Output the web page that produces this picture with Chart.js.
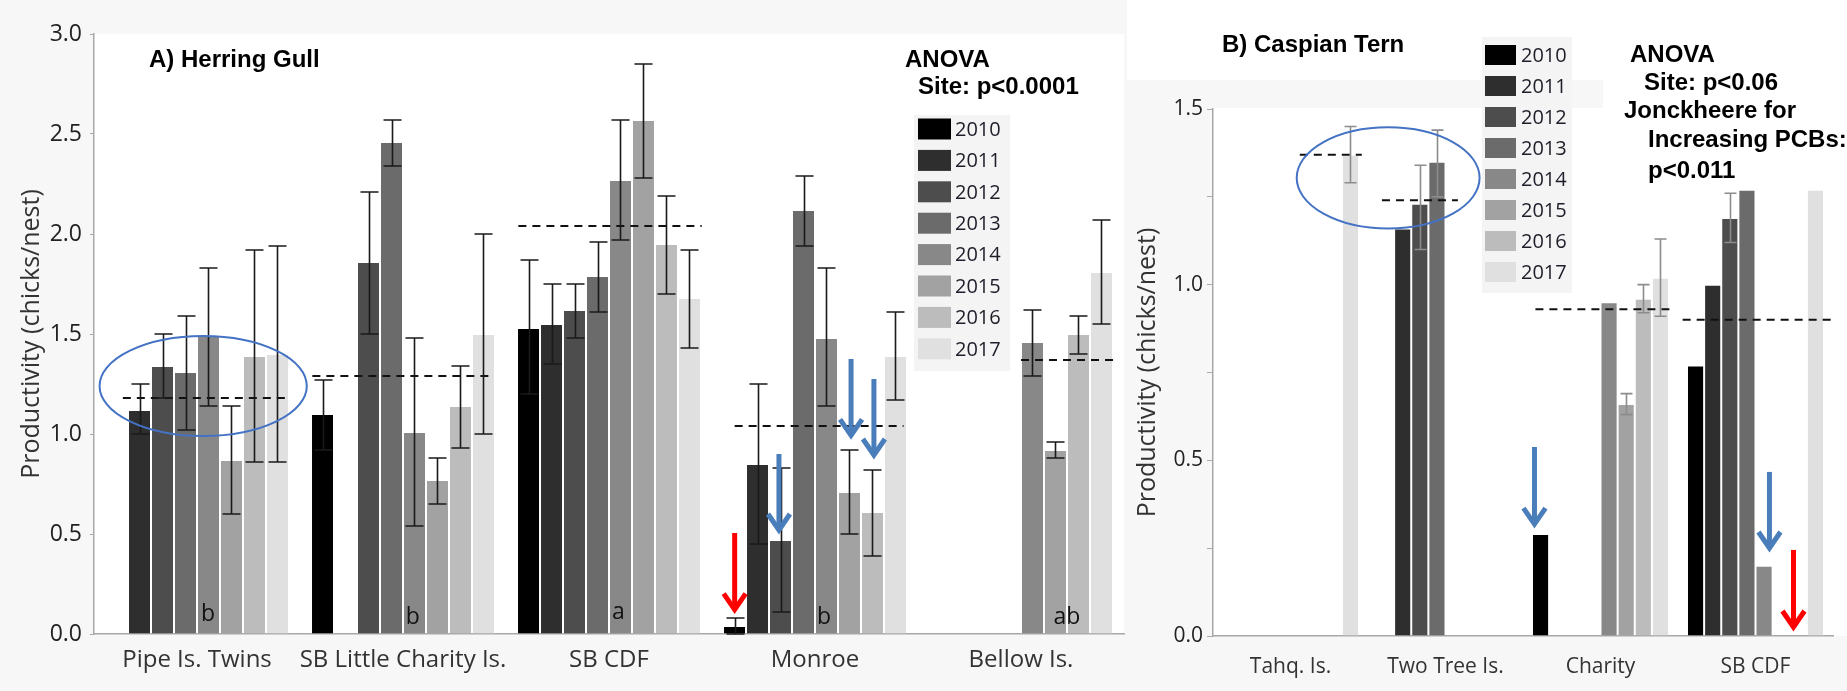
<!DOCTYPE html>
<html>
<head>
<meta charset="utf-8">
<script src="https://cdn.jsdelivr.net/npm/chart.js@4.4.1/dist/chart.umd.min.js"></script>
<style>
  html, body { margin: 0; padding: 0; background: #f7f7f7; }
  #wrap { position: relative; width: 1847px; height: 691px; overflow: hidden; }
  #gullBox { position: absolute; left: 0; top: 0; width: 1127px; height: 691px; }
  #ternBox { position: absolute; left: 1127px; top: 0; width: 720px; height: 691px; }
</style>
</head>
<body>
<div id="wrap">
  <div id="gullBox"><canvas id="gullChart" width="1127" height="691"></canvas></div>
  <div id="ternBox"><canvas id="ternChart" width="720" height="691"></canvas></div>
</div>
<script>
// years / colours shared by both panels
const years = ['2010', '2011', '2012', '2013', '2014', '2015', '2016', '2017'];
const yearColors = ['#000000', '#2e2e2e', '#4d4d4d', '#6b6b6b', '#888888', '#a2a2a2', '#bcbcbc', '#e0e0e0'];

// A) Herring Gull - one array per site, one value per year
const gullSites = ['Pipe Is. Twins', 'SB Little Charity Is.', 'SB CDF', 'Monroe', 'Bellow Is.'];
const gullPipe = [null, 1.12, 1.34, 1.31, 1.49, 0.87, 1.39, 1.40];
const gullLittleCharity = [1.10, null, 1.86, 2.46, 1.01, 0.77, 1.14, 1.50];
const gullCdf = [1.53, 1.55, 1.62, 1.79, 2.27, 2.57, 1.95, 1.68];
const gullMonroe = [0.04, 0.85, 0.47, 2.12, 1.48, 0.71, 0.61, 1.39];
const gullBellow = [null, null, null, null, 1.46, 0.92, 1.50, 1.81];

// error bars [low, high]
const gullPipeErr = [null, [1.00, 1.25], [1.18, 1.50], [1.02, 1.59], [1.14, 1.83], [0.60, 1.14], [0.86, 1.92], [0.86, 1.94]];
const gullLittleCharityErr = [[0.92, 1.27], null, [1.50, 2.21], [2.34, 2.57], [0.54, 1.48], [0.65, 0.88], [0.93, 1.34], [1.00, 2.00]];
const gullCdfErr = [[1.20, 1.87], [1.35, 1.75], [1.48, 1.75], [1.61, 1.96], [1.97, 2.57], [2.28, 2.85], [1.70, 2.19], [1.43, 1.92]];
const gullMonroeErr = [[0.00, 0.08], [0.45, 1.25], [0.11, 0.83], [1.94, 2.29], [1.14, 1.83], [0.50, 0.92], [0.39, 0.82], [1.17, 1.61]];
const gullBellowErr = [null, null, null, null, [1.29, 1.62], [0.88, 0.96], [1.40, 1.59], [1.55, 2.07]];

const gullMeans = [1.18, 1.29, 2.04, 1.04, 1.37];
const gullLetters = ['b', 'b', 'a', 'b', 'ab'];
const gullTicks = [0, 0.5, 1.0, 1.5, 2.0, 2.5, 3.0];

// B) Caspian Tern
const ternSites = ['Tahq. Is.', 'Two Tree Is.', 'Charity', 'SB CDF'];
const ternTahq = [null, null, null, null, null, null, null, 1.37];
const ternTwoTree = [null, 1.16, 1.23, 1.35, null, null, null, null];
const ternCharity = [0.29, null, null, null, 0.95, 0.66, 0.96, 1.02];
const ternCdf = [0.77, 1.00, 1.19, 1.27, 0.20, null, null, 1.27];

const ternTahqErr = [null, null, null, null, null, null, null, [1.29, 1.45]];
const ternTwoTreeErr = [null, null, [1.10, 1.34], [1.25, 1.44], null, null, null, null];
const ternCharityErr = [null, null, null, null, null, [0.63, 0.69], [0.92, 1.00], [0.91, 1.13]];
const ternCdfErr = [null, null, [1.12, 1.26], null, null, null, null, null];

const ternMeans = [1.37, 1.24, 0.93, 0.90];

Chart.defaults.font.family = "'Open Sans', 'Noto Sans', sans-serif";

function yearDatasets(siteRows) {
  return years.map((y, i) => ({
    label: y,
    data: siteRows.map(row => row[i]),
    backgroundColor: yearColors[i],
    borderColor: 'rgba(255,255,255,0.28)',
    borderWidth: 1,
    categoryPercentage: 1,
    barPercentage: 1
  }));
}

// annotations, in category / value units
const extrasFor = {
  gullChart: {
    white: [],
    errors: [gullPipeErr, gullLittleCharityErr, gullCdfErr, gullMonroeErr, gullBellowErr],
    errColor: '#1a1a1a', cap: 9,
    means: gullMeans,
    meanSpans: [[-0.36, 0.45], [-0.44, 0.44], [-0.44, 0.45], [-0.39, 0.43], [0, 0.46]],
    letters: gullLetters,
    letterAt: [[0.053, 0.063], [0.048, 0.052], [0.045, 0.075], [0.044, 0.052], [0.223, 0.052]],
    arrows: [
      { cat: 3, dx: -0.39, from: 0.505, to: 0.107, color: '#ff0000' },
      { cat: 3, dx: -0.175, from: 0.90, to: 0.505, color: '#4a7ebb' },
      { cat: 3, dx: 0.175, from: 1.375, to: 0.978, color: '#4a7ebb' },
      { cat: 3, dx: 0.286, from: 1.275, to: 0.88, color: '#4a7ebb' }
    ],
    ellipses: [{ cat: 0, dx: 0.03, rx: 0.503, y: 1.24, ry: 0.25 }],
    legend: { x: 914, y: 115, w: 96, h: 256, boxX: 918, boxW: 33, boxH: 21, row0: 129, step: 31.4, textX: 955, size: 20 },
    texts: [
      { t: 'A) Herring Gull', x: 149, y: 67 },
      { t: 'ANOVA', x: 905, y: 67 },
      { t: 'Site: p<0.0001', x: 918, y: 94 }
    ]
  },
  ternChart: {
    white: [[0, 0, 720, 80], [476, 0, 244, 110], [86, 108, 634, 528]],
    errors: [ternTahqErr, ternTwoTreeErr, ternCharityErr, ternCdfErr],
    errColor: '#8c8c8c', cap: 6,
    means: ternMeans,
    meanSpans: [[0.06, 0.46], [-0.41, 0.08], [-0.42, 0.47], [-0.47, 0.5]],
    letters: [],
    letterAt: [],
    arrows: [
      { cat: 2, dx: -0.426, from: 0.538, to: 0.31, color: '#4a7ebb' },
      { cat: 3, dx: 0.09, from: 0.467, to: 0.242, color: '#4a7ebb' },
      { cat: 3, dx: 0.245, from: 0.245, to: 0.017, color: '#ff0000' }
    ],
    ellipses: [{ cat: 0, dx: 0.63, rx: 0.59, y: 1.304, ry: 0.144 }],
    legend: { x: 355, y: 37, w: 90, h: 256, boxX: 358, boxW: 31, boxH: 20, row0: 55, step: 31, textX: 394, size: 20 },
    texts: [
      { t: 'B) Caspian Tern', x: 95, y: 52 },
      { t: 'ANOVA', x: 503, y: 62 },
      { t: 'Site: p<0.06', x: 517, y: 90 },
      { t: 'Jonckheere for', x: 497, y: 118 },
      { t: 'Increasing PCBs:', x: 521, y: 147 },
      { t: 'p<0.011', x: 521, y: 178 }
    ]
  }
};

const extrasPlugin = {
  id: 'extras',
  beforeDraw(chart) {
    const ex = extrasFor[chart.canvas.id];
    const { ctx, chartArea: a } = chart;
    ctx.save();
    ctx.fillStyle = '#f7f7f7';
    ctx.fillRect(0, 0, chart.width, chart.height);
    ctx.fillStyle = '#ffffff';
    ex.white.forEach(r => ctx.fillRect(r[0], r[1], r[2], r[3]));
    ctx.fillRect(a.left, a.top, a.right - a.left, a.bottom - a.top);
    ctx.restore();
  },
  afterDatasetsDraw(chart) {
    const ex = extrasFor[chart.canvas.id];
    const { ctx } = chart;
    const xs = chart.scales.x, ys = chart.scales.y;
    const cw = xs.getPixelForValue(1) - xs.getPixelForValue(0);
    const px = (cat, dx) => xs.getPixelForValue(cat) + dx * cw;
    ctx.save();

    // site means (dashed)
    ctx.strokeStyle = '#111';
    ctx.lineWidth = 2;
    ctx.setLineDash([8, 6]);
    ex.means.forEach((m, j) => {
      const y = ys.getPixelForValue(m);
      ctx.beginPath();
      ctx.moveTo(px(j, ex.meanSpans[j][0]), y);
      ctx.lineTo(px(j, ex.meanSpans[j][1]), y);
      ctx.stroke();
    });
    ctx.setLineDash([]);

    // error bars
    ctx.strokeStyle = ex.errColor;
    ctx.lineWidth = 1.6;
    ex.errors.forEach((siteErr, j) => siteErr.forEach((e, i) => {
      if (!e) return;
      const bar = chart.getDatasetMeta(i).data[j];
      const x = Math.round(bar.x) + 0.5;
      const y1 = ys.getPixelForValue(e[0]), y2 = ys.getPixelForValue(e[1]);
      ctx.beginPath();
      ctx.moveTo(x, y1); ctx.lineTo(x, y2);
      ctx.moveTo(x - ex.cap, y1); ctx.lineTo(x + ex.cap, y1);
      ctx.moveTo(x - ex.cap, y2); ctx.lineTo(x + ex.cap, y2);
      ctx.stroke();
    }));

    // group letters
    ctx.fillStyle = '#111';
    ctx.font = "23px 'Open Sans', sans-serif";
    ctx.textAlign = 'center';
    ctx.textBaseline = 'alphabetic';
    ex.letters.forEach((l, j) => {
      const p = ex.letterAt[j];
      ctx.fillText(l, px(j, p[0]), ys.getPixelForValue(p[1]));
    });

    // arrows
    ex.arrows.forEach(ar => {
      const x = px(ar.cat, ar.dx);
      const y1 = ys.getPixelForValue(ar.from), y2 = ys.getPixelForValue(ar.to);
      ctx.strokeStyle = ar.color;
      ctx.lineWidth = 5;
      ctx.lineJoin = 'miter';
      ctx.beginPath();
      ctx.moveTo(x, y1); ctx.lineTo(x, y2 - 3);
      ctx.stroke();
      ctx.beginPath();
      ctx.moveTo(x - 11, y2 - 19); ctx.lineTo(x, y2 - 3); ctx.lineTo(x + 11, y2 - 19);
      ctx.stroke();
    });

    // circled groups
    ctx.strokeStyle = '#4472c4';
    ctx.lineWidth = 2;
    ex.ellipses.forEach(el => {
      const cy = ys.getPixelForValue(el.y);
      const ry = Math.abs(ys.getPixelForValue(el.y + el.ry) - cy);
      ctx.beginPath();
      ctx.ellipse(px(el.cat, el.dx), cy, el.rx * cw, ry, 0, 0, Math.PI * 2);
      ctx.stroke();
    });
    ctx.restore();
  },
  afterDraw(chart) {
    const ex = extrasFor[chart.canvas.id];
    const { ctx } = chart;
    const lg = ex.legend;
    ctx.save();
    ctx.fillStyle = '#f4f4f4';
    ctx.fillRect(lg.x, lg.y, lg.w, lg.h);
    ctx.font = lg.size + "px 'Open Sans', sans-serif";
    ctx.textAlign = 'left';
    ctx.textBaseline = 'middle';
    chart.data.datasets.forEach((ds, i) => {
      const cy = lg.row0 + i * lg.step;
      ctx.fillStyle = ds.backgroundColor;
      ctx.fillRect(lg.boxX, cy - lg.boxH / 2, lg.boxW, lg.boxH);
      ctx.fillStyle = '#1e1e2a';
      ctx.fillText(ds.label, lg.textX, cy + 1);
    });
    ctx.fillStyle = '#000';
    ctx.font = "bold 24px 'Liberation Sans', Arial, sans-serif";
    ctx.textBaseline = 'alphabetic';
    ex.texts.forEach(t => ctx.fillText(t.t, t.x, t.y));
    ctx.restore();
  }
};

const axisGray = '#a8a8a8';

new Chart(document.getElementById('gullChart').getContext('2d'), {
  type: 'bar',
  data: {
    labels: gullSites,
    datasets: yearDatasets([gullPipe, gullLittleCharity, gullCdf, gullMonroe, gullBellow]).map(d => Object.assign(d, { categoryPercentage: 0.893 }))
  },
  options: {
    responsive: false,
    animation: false,
    devicePixelRatio: 1,
    layout: { padding: { top: 34, right: 3, left: 0, bottom: 0 } },
    plugins: { legend: { display: false }, tooltip: { enabled: false } },
    scales: {
      x: {
        grid: { display: false },
        border: { display: true, color: axisGray, width: 1.5 },
        ticks: { font: { size: 24 }, color: '#333', padding: 4, maxRotation: 0, autoSkip: false },
        afterFit: s => { s.height = 57; }
      },
      y: {
        min: 0, max: 3,
        afterBuildTicks: s => { s.ticks = gullTicks.map(v => ({ value: v })); },
        ticks: { callback: v => v.toFixed(1), font: { size: 23 }, color: '#222', padding: 8 },
        grid: { drawOnChartArea: false, drawTicks: true, tickLength: 4, color: axisGray },
        border: { color: axisGray, width: 1.5 },
        title: { display: true, text: 'Productivity (chicks/nest)', font: { size: 25 }, color: '#333', padding: { top: 17, bottom: 0 } },
        afterFit: s => { s.width = 94; }
      }
    }
  },
  plugins: [extrasPlugin]
});

new Chart(document.getElementById('ternChart').getContext('2d'), {
  type: 'bar',
  data: {
    labels: ternSites,
    datasets: yearDatasets([ternTahq, ternTwoTree, ternCharity, ternCdf]).map(d => Object.assign(d, { categoryPercentage: 0.884 }))
  },
  options: {
    responsive: false,
    animation: false,
    devicePixelRatio: 1,
    layout: { padding: { top: 109, right: 14, left: 0, bottom: 0 } },
    plugins: { legend: { display: false }, tooltip: { enabled: false } },
    scales: {
      x: {
        grid: { display: false },
        border: { display: true, color: axisGray, width: 1.5 },
        ticks: { font: { size: 21 }, color: '#333', padding: 10, maxRotation: 0, autoSkip: false },
        afterFit: s => { s.height = 55; }
      },
      y: {
        min: 0, max: 1.5,
        ticks: {
          stepSize: 0.25,
          callback: v => (Math.abs(v * 2 - Math.round(v * 2)) < 1e-6 ? v.toFixed(1) : ''),
          font: { size: 21 }, color: '#222', padding: 4
        },
        grid: { drawOnChartArea: false, drawTicks: true, tickLength: 6, color: axisGray },
        border: { color: axisGray, width: 1.5 },
        title: { display: true, text: 'Productivity (chicks/nest)', font: { size: 25 }, color: '#333', padding: { top: 6, bottom: 0 } },
        afterFit: s => { s.width = 86; }
      }
    }
  },
  plugins: [extrasPlugin]
});
</script>
</body>
</html>
